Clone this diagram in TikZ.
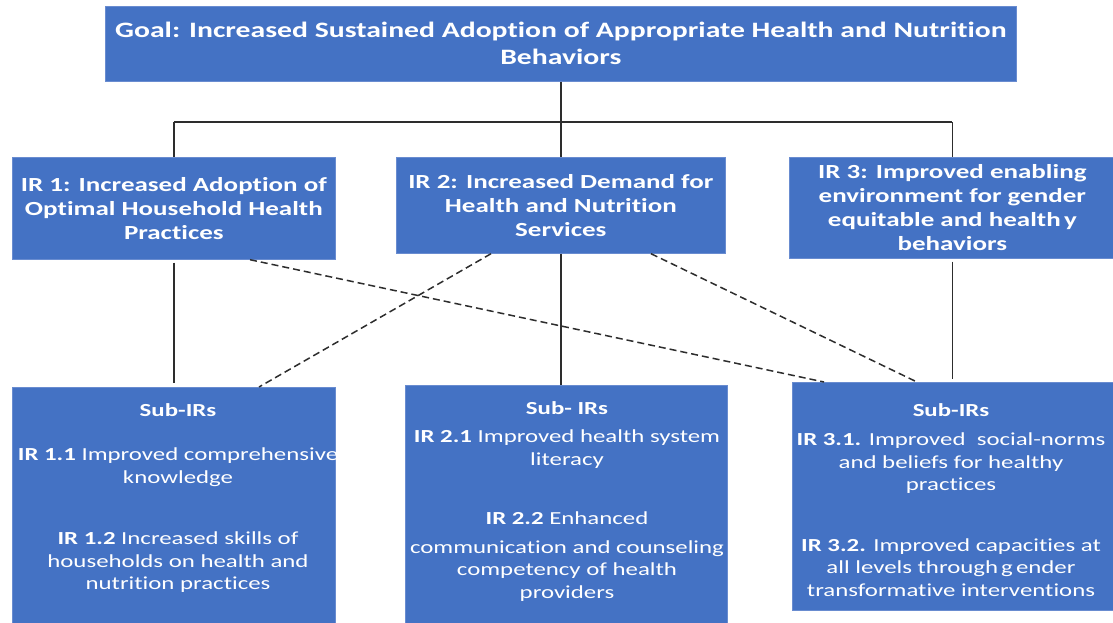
\documentclass[tikz,border=0pt]{standalone}
\usepackage{fontspec}
\setmainfont{Carlito}[FakeStretch=1.35, Ligatures=NoCommon]
\definecolor{boxblue}{RGB}{68,114,196}
\definecolor{boxedge}{RGB}{105,140,208}
\definecolor{linegray}{RGB}{45,45,45}
\begin{document}
\begin{tikzpicture}[x=1pt,y=-1pt,
  box/.style={fill=boxblue, draw=boxedge, line width=0.7pt, inner sep=0pt,
    anchor=north west, text=white, align=center},
  goalfont/.style={font=\fontsize{22}{27}\selectfont\bfseries},
  irfont/.style={font=\fontsize{20}{24}\selectfont\bfseries},
  subtext/.style={text=white, align=center, inner sep=0pt, anchor=north,
    font=\fontsize{18.4}{22.5}\selectfont},
  link/.style={draw=linegray, line width=1.5pt},
  crosslink/.style={draw=linegray, line width=1.5pt, dash pattern=on 7pt off 4pt}]
\useasboundingbox (0,0) rectangle (1113,622);

% goal and intermediate results
\node[box, goalfont, minimum width=911pt, minimum height=75pt] (goal) at (105,6)
  {Goal: Increased Sustained Adoption of Appropriate Health and Nutrition\\Behaviors};
\node[box, irfont, minimum width=323pt, minimum height=102pt] (ir1) at (12,157)
  {IR 1: Increased Adoption of\\Optimal Household Health\\Practices};
\node[box, irfont, minimum width=329pt, minimum height=96pt] (ir2) at (396,157)
  {IR 2: Increased Demand for\\Health and Nutrition\\Services};
\node[box, irfont, minimum width=326pt, minimum height=101pt] (ir3) at (789,157)
  {IR 3: Improved enabling\\environment for gender\\equitable and health\,y\\behaviors};

% sub-result boxes
\node[box, minimum width=323pt, minimum height=240pt] (sub1) at (12,387) {};
\node[box, minimum width=322pt, minimum height=240pt] (sub2) at (405,385) {};
\node[box, minimum width=322pt, minimum height=228pt] (sub3) at (792,382) {};

\node[subtext] (sub1text) at (178,403)
  {\textbf{Sub-IRs}\\[22pt]
   \textbf{IR 1.1} Improved comprehensive\\
   knowledge\\[39pt]
   \textbf{IR 1.2} Increased skills of\\
   households on health and\\
   nutrition practices};
\node[subtext] (sub2text) at (567,401)
  {\textbf{Sub- IRs}\\[6pt]
   \textbf{IR 2.1} Improved health system\\
   literacy\\[37pt]
   \textbf{IR 2.2} Enhanced\\[6pt]
   communication and counseling\\
   competency of health\\
   providers};
\node[subtext] (sub3text) at (951,403)
  {\textbf{Sub-IRs}\\[7pt]
   \textbf{IR 3.1.} Improved\ \ social-norms\\
   and beliefs for healthy\\
   practices\\[38pt]
   \textbf{IR 3.2.} Improved capacities at\\
   all levels through\,g\,ender\\
   transformative interventions};

% tree connectors
\coordinate (bus) at (560,122);
\draw[link] (goal.south) -- (ir2.north);
\draw[link] (ir1.north |- bus) -- (ir3.north |- bus);
\draw[link] (ir1.north |- bus) -- (ir1.north);
\draw[link] (ir3.north |- bus) -- (ir3.north);
\draw[link, shorten <=3pt, shorten >=4pt] (ir1.south) -- (sub1.north);
\draw[link] (ir2.south) -- (ir2.south |- sub2.north);
\draw[link, shorten <=3pt, shorten >=3pt] (ir3.south) -- (ir3.south |- sub3.north);

% cross links
\draw[crosslink] ([xshift=238pt]ir1.south west) -- ([xshift=32pt]sub3.north west);
\draw[crosslink] ([xshift=95pt]ir2.south west) -- ([xshift=247pt]sub1.north west);
\draw[crosslink] ([xshift=255pt]ir2.south west) -- ([xshift=125pt]sub3.north west);
\end{tikzpicture}
\end{document}
